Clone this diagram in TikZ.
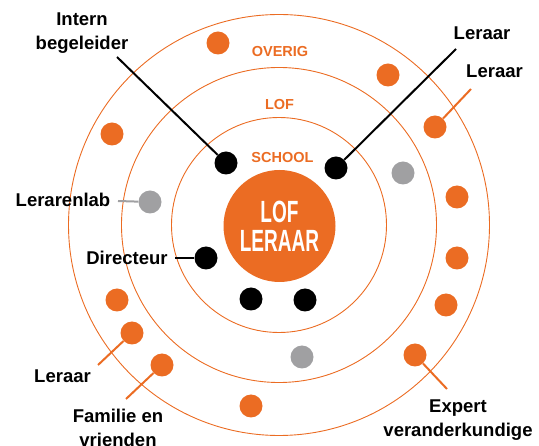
\documentclass[tikz,border=0pt]{standalone}
\usepackage{fontspec}
\setmainfont{Liberation Sans}
\newfontfamily\condfont[FakeStretch=0.62]{Liberation Sans}
\definecolor{lorange}{RGB}{235,108,35}
\definecolor{lgrey}{RGB}{160,160,162}
\begin{document}
\begin{tikzpicture}[x=1pt,y=-1pt,
  ring/.style={draw=lorange,line width=0.9pt},
  dotbase/.style={circle,minimum size=23pt,inner sep=0pt},
  dotb/.style={dotbase,fill=black},
  doto/.style={dotbase,fill=lorange},
  dotg/.style={dotbase,fill=lgrey},
  lab/.style={font=\bfseries\fontsize{18.5}{24}\selectfont,inner sep=0pt,align=center},
  ringlab/.style={text=lorange,font=\bfseries\fontsize{14.5}{16}\selectfont,inner sep=0pt},
  conb/.style={line width=2pt,black},
  cono/.style={line width=2pt,lorange},
  cong/.style={line width=2pt,lgrey}]
\useasboundingbox (0,0) rectangle (539,446);
% rings
\draw[ring] (279,225) circle[radius=210.5pt];
\draw[ring] (279,225) circle[radius=157.5pt];
\draw[ring] (279,225) circle[radius=107.5pt];
% ring labels
\node[ringlab] (overig) at (280,52) {OVERIG};
\node[ringlab] (lof) at (279.5,104.5) {LOF};
\node[ringlab] (school) at (282.5,157.5) {SCHOOL};
% core
\node[circle,fill=lorange,minimum size=112pt,inner sep=0pt,text=white,align=center,
  font=\condfont\bfseries\fontsize{30.7}{29}\selectfont] (core) at (279.5,226) {LOF\\LERAAR};
% black dots
\node[dotb] (ib) at (226,163) {};
\node[dotb] (ler1) at (336,168) {};
\node[dotb] (dir) at (206,258) {};
\node[dotb] (b4) at (251,299) {};
\node[dotb] (b5) at (305,300) {};
% grey dots
\node[dotg] (lab) at (150,202) {};
\node[dotg] (g2) at (403,173) {};
\node[dotg] (g3) at (302,357) {};
% orange dots
\node[doto] (o1) at (218,43) {};
\node[doto] (o2) at (112,134) {};
\node[doto] (o3) at (388,75) {};
\node[doto] (ler2) at (435,127) {};
\node[doto] (o5) at (457,197) {};
\node[doto] (o6) at (457,258) {};
\node[doto] (o7) at (446,305) {};
\node[doto] (exp) at (415,355) {};
\node[doto] (o9) at (117,300) {};
\node[doto] (ler3) at (132,333) {};
\node[doto] (fam) at (162,365) {};
\node[doto] (o12) at (251,406) {};
% labels
\node[lab,anchor=north] (tib) at (82,13) {Intern\\begeleider};
\node[lab,anchor=base] (tler1) at (482,40) {Leraar};
\node[lab,anchor=base] (tler2) at (494.5,78) {Leraar};
\node[lab,anchor=base] (tlab) at (63,207) {Lerarenlab};
\node[lab,anchor=base] (tdir) at (127,265) {Directeur};
\node[lab,anchor=base] (tler3) at (62.5,383) {Leraar};
\node[lab,anchor=north] (tfam) at (118,409) {Familie en\\vrienden};
\node[lab,anchor=north] (texp) at (458,400) {Expert\\veranderkundige};
% connector ends
\coordinate (cib) at (117,57);
\coordinate (cler1) at (456,49);
\coordinate (cler2) at (471,89);
\coordinate (clab) at (118,201);
\coordinate (cdir) at (175,258);
\coordinate (cler3) at (98,365);
\coordinate (cfam) at (126,399);
\coordinate (cexp) at (447,389);
% connectors
\draw[conb] (cib) -- (ib);
\draw[conb] (cler1) -- (ler1);
\draw[cono] (cler2) -- (ler2);
\draw[cong] (clab) -- (lab);
\draw[conb] (cdir) -- (dir);
\draw[cono] (cler3) -- (ler3);
\draw[cono] (cfam) -- (fam);
\draw[cono] (cexp) -- (exp);
\end{tikzpicture}
\end{document}
